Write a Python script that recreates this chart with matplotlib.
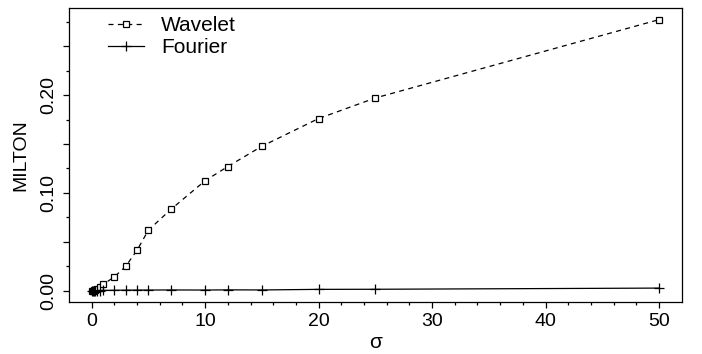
import matplotlib
matplotlib.use("Agg")
import matplotlib.pyplot as plt
from matplotlib.ticker import FixedLocator, FuncFormatter

sigma = [0, 0.1, 0.2, 0.3, 0.5, 0.7, 1, 2, 3, 4, 5, 7, 10, 12, 15, 20, 25, 50]
wavelet = [0.0, 0.0002, 0.0005, 0.001, 0.002, 0.004, 0.0065, 0.0143, 0.025, 0.0416,
           0.062, 0.0834, 0.1125, 0.127, 0.1477, 0.176, 0.197, 0.277]
fourier = [0.0, 0.0, 0.0001, 0.0001, 0.0002, 0.0003, 0.0004, 0.0006, 0.0007, 0.0008,
           0.0008, 0.0009, 0.0008, 0.001, 0.0009, 0.0015, 0.0016, 0.0028]

x_major = [0, 10, 20, 30, 40, 50]
y_labels = {0.0: "0.00", 0.1: "0.10", 0.2: "0.20"}

plt.rcParams['font.family'] = ['Liberation Sans', 'DejaVu Sans']

fig = plt.figure(figsize=(7.02, 3.54), dpi=100)
ax = fig.add_axes([69/702, 1-301.7/354, (681.7-69)/702, (301.7-8)/354])

ax.plot(sigma, wavelet, color='black', lw=0.9, dashes=(4, 3.5),
        marker='s', markersize=4.5, markerfacecolor='white', markeredgewidth=0.9,
        label='Wavelet')
ax.plot(sigma, fourier, color='black', lw=0.9, marker='+', markersize=7,
        markeredgewidth=0.9, label='Fourier')

ax.set_xlim(-2, 52)
ax.set_ylim(-0.0111, 0.2889)

ax.xaxis.set_major_locator(FixedLocator(x_major))
ax.xaxis.set_minor_locator(FixedLocator([v for v in range(0, 51, 2) if v % 10]))
yl_major = [0.0, 0.05, 0.1, 0.15, 0.2, 0.25]
ax.yaxis.set_major_locator(FixedLocator(yl_major))
ax.yaxis.set_minor_locator(FixedLocator([0.025, 0.075, 0.125, 0.175, 0.225, 0.275]))

def yfmt(v, pos):
    for k, s in y_labels.items():
        if abs(v - k) < 1e-9:
            return s
    return ""
ax.yaxis.set_major_formatter(FuncFormatter(yfmt))

ax.tick_params(axis='both', which='major', direction='out', length=4.5, width=0.9,
               labelsize=14, color='black')
ax.tick_params(axis='both', which='minor', direction='out', length=2.3, width=0.9,
               color='black')
ax.tick_params(axis='x', pad=3.5)
ax.tick_params(axis='y', pad=4)
for lab in ax.get_yticklabels():
    lab.set_rotation(90)
    lab.set_va('center')

for s in ax.spines.values():
    s.set_linewidth(0.9)
    s.set_color('black')

ax.set_xlabel('σ', fontsize=15, labelpad=2)
ax.set_ylabel('MILTON', fontsize=14, labelpad=8)

leg = ax.legend(loc='upper left', frameon=False, fontsize=15, handlelength=1.75,
                handletextpad=0.8, labelspacing=0.12, borderaxespad=0.0,
                bbox_to_anchor=(0.05, 1.0))

fig.savefig('out.png', dpi=100)
